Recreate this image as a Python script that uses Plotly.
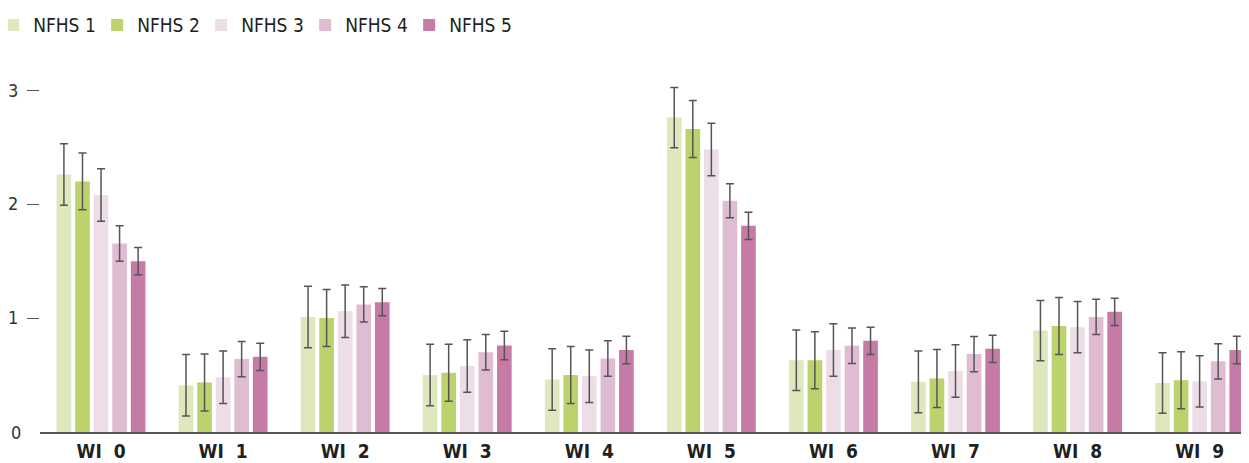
import plotly.graph_objects as go

categories = ["WI\u00a0\u00a00", "WI\u00a0\u00a01", "WI\u00a0\u00a02", "WI\u00a0\u00a03", "WI\u00a0\u00a04",
              "WI\u00a0\u00a05", "WI\u00a0\u00a06", "WI\u00a0\u00a07", "WI\u00a0\u00a08", "WI\u00a0\u00a09"]
series_names = ["NFHS 1", "NFHS 2", "NFHS 3", "NFHS 4", "NFHS 5"]

nfhs1 = [2.26, 0.41, 1.01, 0.50, 0.46, 2.76, 0.63, 0.44, 0.89, 0.43]
nfhs2 = [2.20, 0.435, 1.00, 0.52, 0.50, 2.66, 0.63, 0.47, 0.93, 0.455]
nfhs3 = [2.08, 0.48, 1.06, 0.58, 0.49, 2.48, 0.72, 0.535, 0.92, 0.445]
nfhs4 = [1.655, 0.64, 1.12, 0.70, 0.645, 2.03, 0.757, 0.684, 1.01, 0.62]
nfhs5 = [1.50, 0.66, 1.14, 0.76, 0.72, 1.81, 0.80, 0.73, 1.055, 0.72]

err1 = [0.27, 0.27, 0.27, 0.27, 0.27, 0.265, 0.265, 0.27, 0.265, 0.265]
err2 = [0.25, 0.25, 0.25, 0.25, 0.25, 0.25, 0.25, 0.255, 0.25, 0.25]
err3 = [0.23, 0.23, 0.23, 0.23, 0.23, 0.23, 0.23, 0.23, 0.225, 0.225]
err4 = [0.155, 0.155, 0.155, 0.155, 0.155, 0.15, 0.155, 0.155, 0.155, 0.155]
err5 = [0.12, 0.12, 0.12, 0.125, 0.12, 0.12, 0.12, 0.12, 0.12, 0.12]

values = [nfhs1, nfhs2, nfhs3, nfhs4, nfhs5]
errors = [err1, err2, err3, err4, err5]
colors = ["#dfe8bd", "#bcd26c", "#ecdde6", "#dfbcd2", "#c57ba6"]

FONT = "Liberation Sans Narrow, DejaVu Sans Condensed, Roboto, sans-serif"

fig = go.Figure()
for name, vals, errs, col in zip(series_names, values, errors, colors):
    fig.add_trace(go.Bar(
        name=name, x=categories, y=vals,
        marker=dict(color=col, line=dict(width=0)),
        error_y=dict(type="data", array=errs, color="#555555", thickness=1.5, width=4),
    ))

fig.update_layout(
    width=1249, height=463,
    margin=dict(l=32, r=0, t=72, b=39, autoexpand=False),
    paper_bgcolor="white", plot_bgcolor="white",
    barmode="group", bargap=0.24, bargroupgap=0.21,
    font=dict(family=FONT, color="#231f20"),
    legend=dict(orientation="h", x=-0.0385, xanchor="left", y=1.156, yanchor="middle",
                font=dict(family=FONT, size=19, color="#231f20"), entrywidth=59, itemwidth=30,
                traceorder="normal"),
    showlegend=True,
)
fig.update_xaxes(
    range=[-0.5, 9.47], showline=True, linecolor="#555555", linewidth=2,
    ticks="", showgrid=False, zeroline=False,
    tickfont=dict(family=FONT, size=19, color="#231f20", weight="bold"), ticklabelstandoff=1,
)
fig.update_yaxes(
    range=[0, 3.09], tickvals=[1, 2, 3], ticks="outside", ticklen=12, tickcolor="#555555",
    tickwidth=1, showgrid=False, zeroline=False, showline=False,
    tickfont=dict(family=FONT, size=18, color="#333333"), ticklabelstandoff=5,
)
fig.add_annotation(text="0", x=0, xref="paper", xanchor="right", xshift=-17,
                   y=0, yref="y", yanchor="middle", showarrow=False,
                   font=dict(family=FONT, size=18, color="#333333"))

fig.write_html("out.html")
